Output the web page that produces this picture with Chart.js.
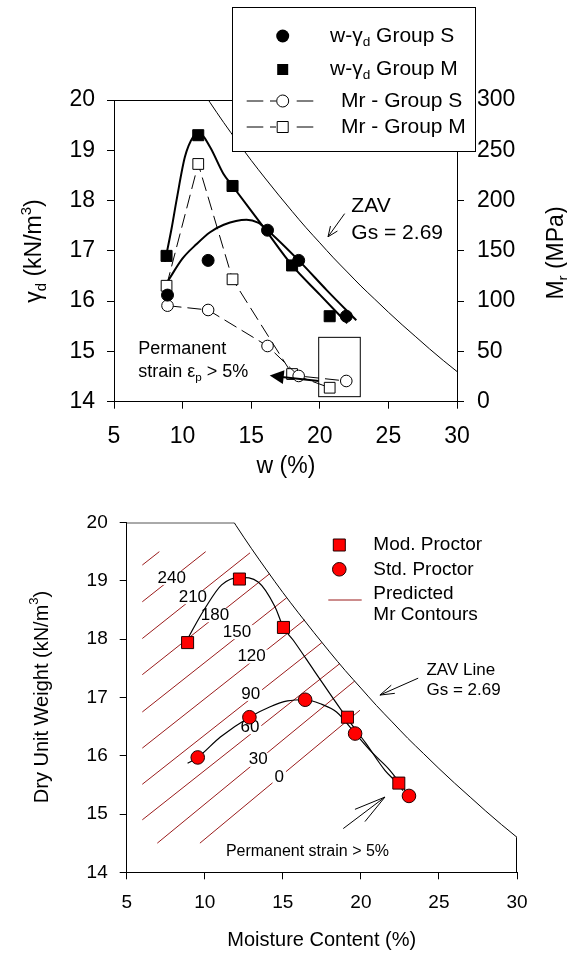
<!DOCTYPE html>
<html>
<head>
    <meta charset="utf-8">
    <title>w - γd and Mr</title>
    <script src="https://cdn.jsdelivr.net/npm/chart.js"></script>
    <style>
        html, body { margin: 0; padding: 0; background: #fff; }
        #wrap { position: relative; width: 567px; height: 957px; }
        #topChart { position: absolute; left: 0; top: 0; }
        #bottomChart { position: absolute; left: 0; top: 480px; }
    </style>
</head>
<body>
<div id="wrap">
    <canvas id="topChart" width="567" height="480"></canvas>
    <canvas id="bottomChart" width="567" height="477"></canvas>
</div>

<script>
    // ---- top chart data ----
    const wTicks = [5, 10, 15, 20, 25, 30];
    const gammaTicks = [14, 15, 16, 17, 18, 19, 20];
    const mrTicks = [0, 50, 100, 150, 200, 250, 300];

    const wGroupS = [8.9, 11.86, 16.19, 18.46, 21.93];
    const gammaGroupS = [16.12, 16.81, 17.41, 16.81, 15.70];
    const mrGroupS = [95.5, 91.2, 55.4, 25.6, 20.6];

    const wGroupM = [8.83, 11.14, 13.64, 17.98, 20.72];
    const gammaGroupM = [16.90, 19.30, 18.29, 16.71, 15.70];
    const mrGroupM = [115.3, 236.4, 121.7, 27.5, 13.9];

    // fitted curves
    const fitMW = [8.71, 9.2, 9.56, 10.17, 10.77, 11.21, 11.99, 12.96, 13.64, 15.87, 17.98, 20.0, 22.0];
    const fitMGamma = [16.78, 17.45, 18.01, 18.87, 19.27, 19.35, 19.07, 18.54, 18.29, 17.48, 16.71, 16.13, 15.56];
    const fitSW = [8.95, 10.0, 11.0, 12.0, 13.0, 14.66, 15.5, 16.19, 18.46, 20.5, 22.66];
    const fitSGamma = [16.41, 16.85, 17.13, 17.37, 17.52, 17.62, 17.56, 17.41, 16.81, 16.22, 15.62];

    // zero air voids line, Gs = 2.69
    const zavW = [11.88, 12, 13, 14, 15, 16, 17, 18, 19, 20, 21, 22, 23, 24, 25, 26, 27, 28, 29, 30];
    const zavGamma = [20.0, 19.95, 19.55, 19.17, 18.80, 18.45, 18.11, 17.78, 17.46, 17.16, 16.86, 16.58, 16.30, 16.04, 15.78, 15.53, 15.29, 15.05, 14.82, 14.60];

    // ---- bottom chart data ----
    const wModProctor = [8.9, 12.22, 15.04, 19.14, 22.43];
    const gammaModProctor = [17.94, 19.03, 18.20, 16.66, 15.53];
    const wStdProctor = [9.55, 12.86, 16.43, 19.63, 23.08];
    const gammaStdProctor = [15.97, 16.66, 16.96, 16.38, 15.31];

    const fitModW = [8.64, 9.3, 10.02, 11.08, 12.25, 13.42, 14.49, 15.04, 15.67, 17.0, 19.12, 20.3, 21.54, 22.43, 22.7];
    const fitModGamma = [17.87, 18.2, 18.53, 18.93, 19.06, 18.98, 18.56, 18.20, 17.98, 17.46, 16.64, 16.22, 15.75, 15.50, 15.40];
    const fitStdW = [8.9, 9.55, 11.0, 12.86, 14.19, 15.3, 16.43, 17.5, 18.44, 19.62, 20.7, 21.86, 23.08, 23.3];
    const fitStdGamma = [15.87, 15.97, 16.32, 16.66, 16.84, 16.94, 16.96, 16.88, 16.75, 16.39, 16.06, 15.75, 15.31, 15.22];

    // predicted Mr contours (MPa): start / end of each straight contour
    const contourLevels = [270, 240, 210, 180, 150, 120, 90, 60, 30, 0];
    const contourStartW = [6, 6, 6, 6, 6, 6, 6, 6, 6.96, 9.69];
    const contourStartGamma = [19.27, 18.64, 18.01, 17.39, 16.75, 16.13, 15.51, 14.90, 14.5, 14.5];
    const contourEndW = [7.09, 10.06, 12.9, 14.15, 15.25, 16.4, 17.5, 18.65, 19.6, 19.94];
    const contourEndGamma = [19.5, 19.5, 19.48, 19.12, 18.71, 18.33, 17.94, 17.58, 17.28, 16.78];

    const FONT = "'Liberation Sans', Arial, Helvetica, sans-serif";
    Chart.defaults.font.family = FONT;
    Chart.defaults.color = '#000';

    function pts(xs, ys) {
        return xs.map((v, i) => ({ x: v, y: ys[i] }));
    }

    // text with sub/superscript parts: [[text, 'sub'|'sup'|undefined], ...]
    function richText(ctx, parts, x, y, size, align, angle) {
        ctx.save();
        ctx.translate(x, y);
        if (angle) ctx.rotate(angle);
        const widths = parts.map(p => {
            ctx.font = (p[1] ? size * 0.65 : size) + 'px ' + FONT;
            return ctx.measureText(p[0]).width;
        });
        const total = widths.reduce((a, b) => a + b, 0);
        let cx = align === 'center' ? -total / 2 : (align === 'right' ? -total : 0);
        ctx.textAlign = 'left';
        ctx.textBaseline = 'middle';
        ctx.fillStyle = '#000';
        parts.forEach((p, i) => {
            ctx.font = (p[1] ? size * 0.65 : size) + 'px ' + FONT;
            const dy = p[1] === 'sub' ? size * 0.32 : (p[1] === 'sup' ? -size * 0.36 : 0);
            ctx.fillText(p[0], cx, dy);
            cx += widths[i];
        });
        ctx.restore();
    }

    function seg(ctx, x1, y1, x2, y2) {
        ctx.beginPath();
        ctx.moveTo(x1, y1);
        ctx.lineTo(x2, y2);
        ctx.stroke();
    }

    function openArrow(ctx, x1, y1, x2, y2, len, ang) {
        const a = Math.atan2(y2 - y1, x2 - x1);
        ctx.beginPath();
        ctx.moveTo(x1, y1);
        ctx.lineTo(x2, y2);
        ctx.moveTo(x2 - len * Math.cos(a - ang), y2 - len * Math.sin(a - ang));
        ctx.lineTo(x2, y2);
        ctx.lineTo(x2 - len * Math.cos(a + ang), y2 - len * Math.sin(a + ang));
        ctx.stroke();
    }

    function axisBase(min, max, ticks, size, pad, fit) {
        return {
            type: 'linear', min: min, max: max,
            afterBuildTicks: s => { s.ticks = ticks.map(v => ({ value: v })); },
            afterFit: fit,
            grid: { drawOnChartArea: false, tickLength: 7, color: '#000' },
            border: { color: '#000', width: 1 },
            ticks: { font: { size: size }, color: '#000', padding: pad, maxRotation: 0 }
        };
    }

    // ---- top chart decorations ----
    const topDecor = {
        id: 'topDecor',
        afterDraw(chart) {
            const { ctx, chartArea: a, scales: { x, y } } = chart;
            const px = v => x.getPixelForValue(v);
            const py = v => y.getPixelForValue(v);
            ctx.save();
            ctx.strokeStyle = '#000';
            ctx.fillStyle = '#000';
            ctx.lineWidth = 1;

            // top frame
            seg(ctx, a.left, a.top + 0.5, a.right, a.top + 0.5);

            // ZAV note
            richText(ctx, [['ZAV']], px(22.3), py(17.88), 21, 'left');
            richText(ctx, [['Gs = 2.69']], px(22.3), py(17.35), 21, 'left');
            openArrow(ctx, px(21.81), py(17.74), px(20.6), py(17.28), 11, 0.4);

            // permanent strain box and arrow
            ctx.strokeRect(px(19.92), py(15.28), px(22.95) - px(19.92), py(14.10) - py(15.28));
            const tx = px(16.35), ty = py(14.52);
            const sx = px(19.92), sy = py(14.41);
            const ang = Math.atan2(ty - sy, tx - sx);
            ctx.lineWidth = 2;
            seg(ctx, sx, sy, tx - 12 * Math.cos(ang), ty - 12 * Math.sin(ang));
            ctx.beginPath();
            ctx.moveTo(tx, ty);
            ctx.lineTo(tx - 14 * Math.cos(ang) + 7 * Math.sin(ang), ty - 14 * Math.sin(ang) - 7 * Math.cos(ang));
            ctx.lineTo(tx - 14 * Math.cos(ang) - 7 * Math.sin(ang), ty - 14 * Math.sin(ang) + 7 * Math.cos(ang));
            ctx.closePath();
            ctx.fill();
            ctx.lineWidth = 1;
            richText(ctx, [['Permanent']], px(6.77), py(15.04), 18, 'left');
            richText(ctx, [['strain ε'], ['p', 'sub'], [' > 5%']], px(6.77), py(14.59), 18, 'left');

            // axis titles
            richText(ctx, [['w (%)']], 286, 467, 23, 'center');
            richText(ctx, [['γ'], ['d', 'sub'], [' (kN/m'], ['3', 'sup'], [')']], 35, 251, 23, 'center', -Math.PI / 2);
            richText(ctx, [['M'], ['r', 'sub'], [' (MPa)']], 557, 253, 23, 'center', -Math.PI / 2);

            // legend box
            const L = 232.5, T = 7.5, W = 243, H = 144;
            ctx.fillStyle = '#fff';
            ctx.fillRect(L, T, W, H);
            ctx.strokeRect(L, T, W, H);
            const mx = 282.7;
            ctx.fillStyle = '#000';
            ctx.beginPath();
            ctx.arc(mx, 36, 6.5, 0, Math.PI * 2);
            ctx.fill();
            ctx.fillRect(mx - 5.5, 64, 11, 11);
            [101, 127].forEach((ry, i) => {
                seg(ctx, 246.7, ry, 263.3, ry);
                seg(ctx, 270, ry, 276, ry);
                seg(ctx, 296.7, ry, 313.3, ry);
                ctx.fillStyle = '#fff';
                ctx.beginPath();
                if (i === 0) ctx.arc(mx, ry, 6, 0, Math.PI * 2);
                else ctx.rect(mx - 5.5, ry - 5.5, 11, 11);
                ctx.fill();
                ctx.stroke();
            });
            richText(ctx, [['w-γ'], ['d', 'sub'], [' Group S']], 330, 36, 21, 'left');
            richText(ctx, [['w-γ'], ['d', 'sub'], [' Group M']], 330, 69, 21, 'left');
            richText(ctx, [['Mr - Group S']], 341, 101, 21, 'left');
            richText(ctx, [['Mr - Group M']], 341, 127, 21, 'left');
            ctx.restore();
        }
    };

    new Chart(document.getElementById('topChart'), {
        type: 'scatter',
        data: {
            datasets: [
                {
                    label: 'w-γd Group S', data: pts(wGroupS, gammaGroupS),
                    pointStyle: 'circle', pointRadius: 6, backgroundColor: '#000', borderColor: '#000', order: 1
                },
                {
                    label: 'w-γd Group M', data: pts(wGroupM, gammaGroupM),
                    pointStyle: 'rect', pointRadius: 7.8, backgroundColor: '#000', borderColor: '#000', order: 1
                },
                {
                    label: 'Mr - Group S', data: pts(wGroupS, mrGroupS), yAxisID: 'y1',
                    showLine: true, borderDash: [14, 6], borderWidth: 1, borderColor: '#000',
                    pointStyle: 'circle', pointRadius: 5.8, backgroundColor: '#fff', pointBorderWidth: 1, order: 2
                },
                {
                    label: 'Mr - Group M', data: pts(wGroupM, mrGroupM), yAxisID: 'y1',
                    showLine: true, borderDash: [14, 6], borderWidth: 1, borderColor: '#000',
                    pointStyle: 'rect', pointRadius: 7.6, backgroundColor: '#fff', pointBorderWidth: 1, order: 2
                },
                {
                    label: 'fit M', data: pts(fitMW, fitMGamma), showLine: true, borderColor: '#000',
                    borderWidth: 2, pointRadius: 0, cubicInterpolationMode: 'monotone', order: 3
                },
                {
                    label: 'fit S', data: pts(fitSW, fitSGamma), showLine: true, borderColor: '#000',
                    borderWidth: 2, pointRadius: 0, cubicInterpolationMode: 'monotone', order: 3
                },
                {
                    label: 'ZAV', data: pts(zavW, zavGamma), showLine: true, borderColor: '#000',
                    borderWidth: 1, pointRadius: 0, cubicInterpolationMode: 'monotone', order: 4
                }
            ]
        },
        options: {
            responsive: false,
            animation: false,
            layout: { padding: { left: 0, right: 0, top: 100, bottom: 0 } },
            plugins: { legend: { display: false }, tooltip: { enabled: false } },
            scales: {
                x: axisBase(5, 30, wTicks, 23, 14, s => { s.height = 78.3; }),
                y: Object.assign(axisBase(14, 20, gammaTicks, 23, 12, s => { s.width = 114; }), { position: 'left' }),
                y1: Object.assign(axisBase(0, 300, mrTicks, 23, 13, s => { s.width = 110; }), { position: 'right' })
            }
        },
        plugins: [topDecor]
    });

    // ---- bottom chart decorations ----
    const contourLabelW = [null, 7.88, 9.24, 10.65, 12.06, 13.0, 12.94, 12.89, 13.43, 14.77];
    const contourLabelGamma = [null, 19.05, 18.72, 18.41, 18.12, 17.70, 17.06, 16.49, 15.93, 15.63];

    const bottomDecor = {
        id: 'bottomDecor',
        afterDatasetDraw(chart, args) {
            if (args.index !== 0) return;
            // contour labels, after all contours are drawn
            const { ctx, scales: { x, y } } = chart;
            ctx.save();
            ctx.font = '17px ' + FONT;
            ctx.textAlign = 'center';
            ctx.textBaseline = 'middle';
            contourLevels.forEach((lv, i) => {
                if (contourLabelW[i] === null) return;
                const lx = x.getPixelForValue(contourLabelW[i]);
                const ly = y.getPixelForValue(contourLabelGamma[i]);
                const tw = ctx.measureText(String(lv)).width;
                ctx.fillStyle = '#fff';
                ctx.fillRect(lx - tw / 2 - 2, ly - 7, tw + 4, 14);
                ctx.fillStyle = '#000';
                ctx.fillText(String(lv), lx, ly);
            });
            ctx.restore();
        },
        afterDraw(chart) {
            const { ctx, chartArea: a, scales: { x, y } } = chart;
            const px = v => x.getPixelForValue(v);
            const py = v => y.getPixelForValue(v);
            const off = 480;
            ctx.save();
            ctx.lineWidth = 1;

            // frame pieces: top edge up to the ZAV line, right edge below it
            ctx.strokeStyle = '#555';
            seg(ctx, a.left, a.top + 0.5, px(zavW[0]), a.top + 0.5);
            ctx.strokeStyle = '#000';
            seg(ctx, a.right - 0.5, py(zavGamma[zavGamma.length - 1]), a.right - 0.5, a.bottom);

            // ZAV note
            richText(ctx, [['ZAV Line']], px(24.2), py(17.47), 17, 'left');
            richText(ctx, [['Gs = 2.69']], px(24.2), py(17.13), 17, 'left');
            openArrow(ctx, px(23.67), py(17.33), px(21.22), py(17.04), 15, 0.3);

            // permanent strain note
            richText(ctx, [['Permanent strain > 5%']], px(16.58), py(14.35), 16, 'center');
            const tipX = px(21.54), tipY = py(15.29);
            seg(ctx, px(18.87), py(14.75), tipX, tipY);
            seg(ctx, px(19.62), py(15.08), tipX, tipY);
            seg(ctx, px(20.26), py(14.87), tipX, tipY);

            // legend
            const mx = 339.3;
            ctx.fillStyle = '#ff0000';
            ctx.strokeStyle = '#200000';
            ctx.beginPath();
            ctx.rect(mx - 6, 545 - off - 6, 12, 12);
            ctx.fill();
            ctx.stroke();
            ctx.beginPath();
            ctx.arc(mx, 569.3 - off, 6.8, 0, Math.PI * 2);
            ctx.fill();
            ctx.stroke();
            ctx.strokeStyle = '#9a1b1b';
            seg(ctx, 328.3, 600 - off, 361.7, 600 - off);
            richText(ctx, [['Mod. Proctor']], 373.3, 545 - off, 19, 'left');
            richText(ctx, [['Std. Proctor']], 373.3, 569.3 - off, 19, 'left');
            richText(ctx, [['Predicted']], 373.3, 593.3 - off, 19, 'left');
            richText(ctx, [['Mr Contours']], 373.3, 615 - off, 19, 'left');

            // axis titles
            richText(ctx, [['Moisture Content (%)']], 321.7, 940 - off, 20, 'center');
            richText(ctx, [['Dry Unit Weight (kN/m'], ['3', 'sup'], [')']], 42, 697 - off, 20, 'center', -Math.PI / 2);
            ctx.restore();
        }
    };

    const contourSets = contourLevels.map((lv, i) => ({
        label: 'Mr ' + lv,
        data: [{ x: contourStartW[i], y: contourStartGamma[i] }, { x: contourEndW[i], y: contourEndGamma[i] }],
        showLine: true, borderColor: '#9a1b1b', borderWidth: 1, pointRadius: 0, order: 10
    }));

    new Chart(document.getElementById('bottomChart'), {
        type: 'scatter',
        data: {
            datasets: contourSets.concat([
                {
                    label: 'ZAV', data: pts(zavW, zavGamma), showLine: true, borderColor: '#000',
                    borderWidth: 1, pointRadius: 0, cubicInterpolationMode: 'monotone', order: 9
                },
                {
                    label: 'fit Mod', data: pts(fitModW, fitModGamma), showLine: true, borderColor: '#000',
                    borderWidth: 1.2, pointRadius: 0, cubicInterpolationMode: 'monotone', order: 5
                },
                {
                    label: 'fit Std', data: pts(fitStdW, fitStdGamma), showLine: true, borderColor: '#000',
                    borderWidth: 1.2, pointRadius: 0, cubicInterpolationMode: 'monotone', order: 5
                },
                {
                    label: 'Mod. Proctor', data: pts(wModProctor, gammaModProctor),
                    pointStyle: 'rect', pointRadius: 8.5, backgroundColor: '#ff0000', borderColor: '#200000',
                    pointBorderWidth: 1, order: 1
                },
                {
                    label: 'Std. Proctor', data: pts(wStdProctor, gammaStdProctor),
                    pointStyle: 'circle', pointRadius: 6.8, backgroundColor: '#ff0000', borderColor: '#200000',
                    pointBorderWidth: 1, order: 1
                }
            ])
        },
        options: {
            responsive: false,
            animation: false,
            layout: { padding: { left: 0, right: 50, top: 42.5, bottom: 0 } },
            plugins: { legend: { display: false }, tooltip: { enabled: false } },
            scales: {
                x: axisBase(5, 30, wTicks, 19, 12, s => { s.height = 84.7; }),
                y: Object.assign(axisBase(14, 20, gammaTicks, 19, 12, s => { s.width = 126.7; }), { position: 'left' })
            }
        },
        plugins: [bottomDecor]
    });
</script>
</body>
</html>
